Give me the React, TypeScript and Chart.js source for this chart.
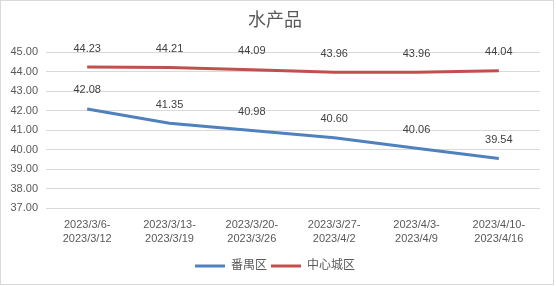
import React, { useEffect, useRef } from "react";
import { Chart, registerables } from "chart.js";

Chart.register(...registerables);

const TITLE = "水产品";
const categories: string[][] = [
  ["2023/3/6-", "2023/3/12"],
  ["2023/3/13-", "2023/3/19"],
  ["2023/3/20-", "2023/3/26"],
  ["2023/3/27-", "2023/4/2"],
  ["2023/4/3-", "2023/4/9"],
  ["2023/4/10-", "2023/4/16"],
];
const panyuValues = [42.08, 41.35, 40.98, 40.6, 40.06, 39.54];
const centralValues = [44.23, 44.21, 44.09, 43.96, 43.96, 44.04];
const seriesNames = ["番禺区", "中心城区"];
const yMin = 37;
const yMax = 45;

const FONT = '"Liberation Sans", "Noto Sans CJK SC", sans-serif';

const dataLabelPlugin = {
  id: "dataLabels",
  afterDatasetsDraw(chart: any) {
    const ctx = chart.ctx;
    ctx.save();
    ctx.font = `11px ${FONT}`;
    ctx.fillStyle = "#404040";
    ctx.textAlign = "center";
    ctx.textBaseline = "middle";
    chart.data.datasets.forEach((ds: any, i: number) => {
      const meta = chart.getDatasetMeta(i);
      meta.data.forEach((pt: any, j: number) => {
        ctx.fillText(Number(ds.data[j]).toFixed(2), pt.x, pt.y - 18.5);
      });
    });
    ctx.restore();
  },
};

const borderPlugin = {
  id: "outerBorder",
  afterDraw(chart: any) {
    const ctx = chart.ctx;
    ctx.save();
    ctx.strokeStyle = "#d9d9d9";
    ctx.lineWidth = 1;
    ctx.strokeRect(0.5, 0.5, 553, 284);
    ctx.restore();
  },
};

export default function App() {
  const ref = useRef<HTMLCanvasElement | null>(null);
  useEffect(() => {
    if (!ref.current) return;
    const chart = new Chart(ref.current, {
      type: "line",
      data: {
        labels: categories,
        datasets: [
          {
            label: seriesNames[0],
            data: panyuValues,
            borderColor: "#4F81BD",
            backgroundColor: "#4F81BD",
            borderWidth: 3,
            pointRadius: 0,
            tension: 0,
          },
          {
            label: seriesNames[1],
            data: centralValues,
            borderColor: "#C0504D",
            backgroundColor: "#C0504D",
            borderWidth: 3,
            pointRadius: 0,
            tension: 0,
          },
        ],
      },
      options: {
        responsive: false,
        animation: false,
        layout: { padding: { left: 10, right: 16, top: 0, bottom: 4 } },
        plugins: {
          title: {
            display: true,
            text: TITLE,
            color: "#595959",
            font: { family: FONT, size: 18, weight: "normal" },
            padding: { top: 10, bottom: 20.4 },
          },
          legend: {
            position: "bottom",
            labels: {
              color: "#595959",
              font: { family: FONT, size: 12 },
              boxWidth: 30,
              boxHeight: 3,
              padding: 4,
              generateLabels(chart: any) {
                const items = Chart.defaults.plugins.legend.labels.generateLabels(chart);
                return items.map((it: any) => ({ ...it, lineWidth: 0 }));
              },
            },
          },
          tooltip: { enabled: false },
        },
        scales: {
          x: {
            offset: true,
            grid: { display: false, drawTicks: false, offset: true },
            border: { display: false },
            ticks: {
              color: "#595959",
              font: { family: FONT, size: 11, lineHeight: 1.3 },
              padding: 10,
              maxRotation: 0,
              autoSkip: false,
            },
            afterFit(scale: any) {
              scale.height = 48;
            },
          },
          y: {
            min: yMin,
            max: yMax,
            grid: { color: "#d9d9d9", drawTicks: false },
            border: { display: false },
            ticks: {
              stepSize: 1,
              color: "#595959",
              font: { family: FONT, size: 11 },
              padding: 8,
              callback: (v: any) => Number(v).toFixed(2),
            },
            afterFit(scale: any) {
              scale.width = 36;
            },
          },
        },
      },
      plugins: [dataLabelPlugin, borderPlugin],
    } as any);
    return () => chart.destroy();
  }, []);
  return (
    <div style={{ position: "fixed", left: 0, top: 0, width: 556, height: 286, background: "#fff" }}>
      <canvas ref={ref} width={556} height={286} style={{ width: 556, height: 286, display: "block" }} />
    </div>
  );
}
